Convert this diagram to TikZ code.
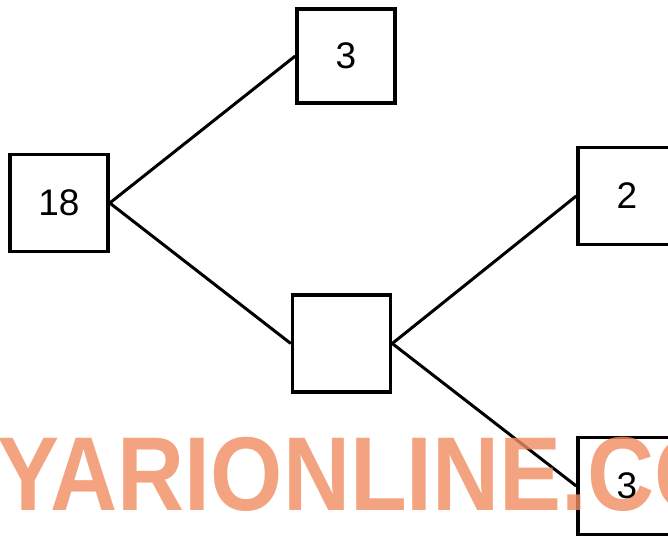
\documentclass[tikz,border=0pt]{standalone}
\usepackage{fontspec}
\setmainfont{Liberation Sans}
\definecolor{wm}{RGB}{240,140,95}
\begin{document}
\begin{tikzpicture}[x=1pt,y=-1pt,
  numbox/.style={draw, line width=3.5pt, minimum width=98pt, minimum height=97pt, inner sep=0pt,
    font=\fontsize{37}{37}\selectfont},
  conn/.style={line width=3pt}]
\useasboundingbox (0,0) rectangle (668,537);
\node[numbox] (n18) at (59,203) {18};
\node[numbox, minimum height=94pt] (n3a) at (346,56) {3};
\node[numbox] (nmid) at (341.5,343.5) {};
\node[numbox] (n2) at (627,196) {2};
\node[numbox] (n3b) at (627,486) {3};
\draw[conn] (n18.east) -- (n3a.west);
\draw[conn] (n18.east) -- (nmid.west);
\draw[conn] (nmid.east) -- (n2.west);
\draw[conn] (nmid.east) -- (n3b.west);
\node[anchor=base west, inner sep=0pt, text=wm, text opacity=0.8, xscale=0.885,
  font=\fontsize{105}{105}\selectfont\bfseries] (wm) at (-3,510) {YARIONLINE.CO};
\end{tikzpicture}
\end{document}
